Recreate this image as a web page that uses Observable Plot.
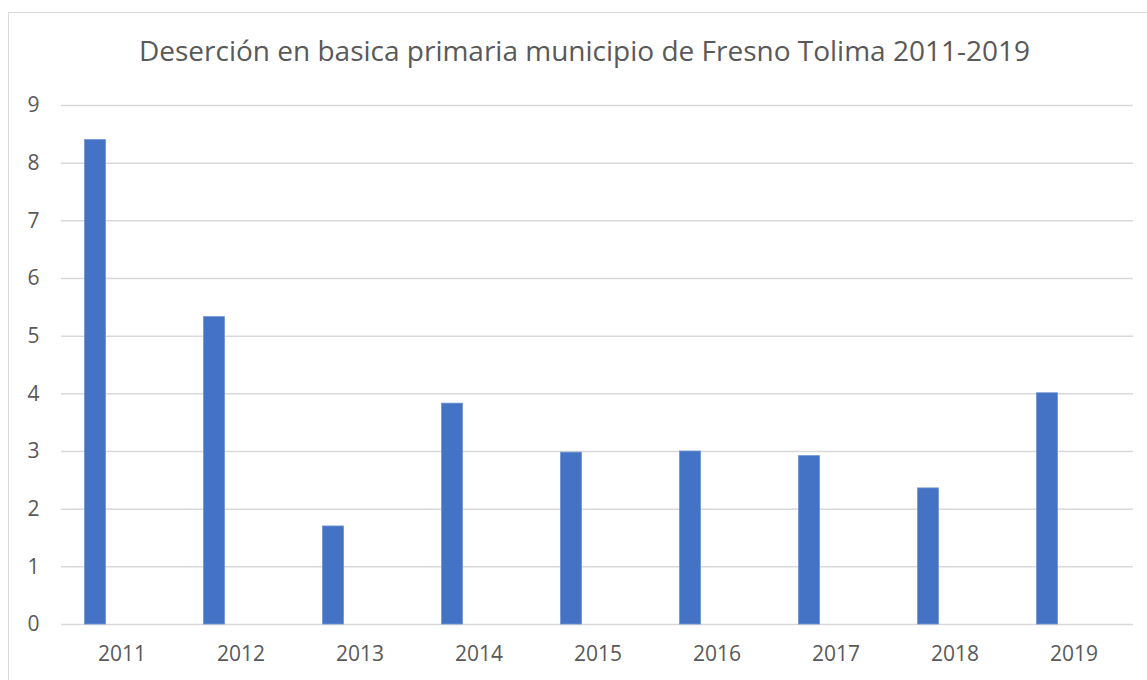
<!DOCTYPE html>
<html>
<head>
<meta charset="utf-8">
<script src="https://cdn.jsdelivr.net/npm/d3@7"></script>
<script src="https://cdn.jsdelivr.net/npm/@observablehq/plot@0.6"></script>
<style>
  html, body { margin: 0; padding: 0; background: #fff; }
  #wrap { position: relative; width: 1147px; height: 680px; overflow: hidden; font-family: "Open Sans", sans-serif; }
  #frame { position: absolute; left: 8px; top: 12px; width: 1160px; height: 700px; border: 1.5px solid #d9d9d9; box-sizing: border-box; }
  #title { position: absolute; left: 11px; width: 1147px; top: 32px; text-align: center; font-size: 28px; color: #595959; line-height: 1.3; white-space: nowrap; }
  #chart { position: absolute; left: 0; top: 0; }
</style>
</head>
<body>
<div id="wrap">
  <div id="frame"></div>
  <div id="chart"></div>
  <div id="title">Deserción en basica primaria municipio de Fresno Tolima 2011-2019</div>
</div>
<script>
const years = ["2011","2012","2013","2014","2015","2016","2017","2018","2019"];
const values = [8.4, 5.33, 1.7, 3.83, 2.98, 3.0, 2.92, 2.36, 4.01];
const yTicks = [0,1,2,3,4,5,6,7,8,9];

const data = years.map((y, i) => ({year: y, value: values[i]}));

const chart = Plot.plot({
  width: 1147,
  height: 680,
  marginLeft: 61,
  marginRight: 14,
  marginTop: 105,
  marginBottom: 56,
  style: {fontFamily: "Open Sans, sans-serif", fontSize: "21px", color: "#595959", background: "transparent"},
  x: {domain: years, padding: 0, label: null},
  y: {domain: [0, 9], label: null},
  marks: [
    Plot.gridY(yTicks, {stroke: "#d9d9d9", strokeOpacity: 1, strokeWidth: 1.5}),
    Plot.barY(data, {x: "year", y: "value", fill: "#4472C4", stroke: "#6f93d3", strokeWidth: 0.8, insetLeft: 22.5, insetRight: 75.5}),
    Plot.axisY({ticks: yTicks, tickSize: 0, tickPadding: 22, fontSize: 21, fill: "#595959", label: null}),
    Plot.axisX({tickSize: 0, tickPadding: 22, fontSize: 21, fill: "#595959", label: null})
  ]
});
document.getElementById("chart").appendChild(chart);
</script>
</body>
</html>
